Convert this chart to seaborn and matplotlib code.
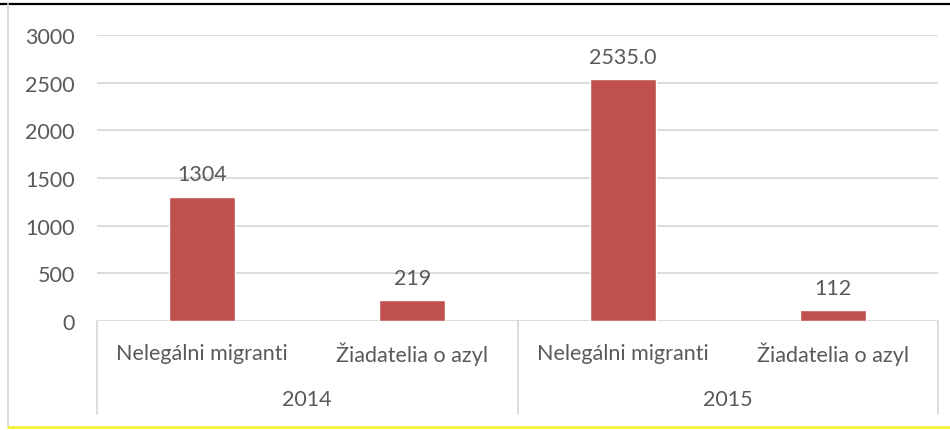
import pandas as pd
import matplotlib.pyplot as plt
import seaborn as sns
from matplotlib.lines import Line2D
from matplotlib.transforms import blended_transform_factory

# Data
years = ['2014', '2014', '2015', '2015']
groups = ['Nelegálni migranti', 'Žiadatelia o azyl', 'Nelegálni migranti', 'Žiadatelia o azyl']
values = [1304, 219, 2535, 112]
value_labels = ['1304', '219', '2535.0', '112']
yticks = [0, 500, 1000, 1500, 2000, 2500, 3000]

df = pd.DataFrame({'year': years, 'group': groups, 'value': values})
df['slot'] = [f'{y}|{g}' for y, g in zip(years, groups)]

sns.set_style('white')
plt.rcParams['font.family'] = ['Lato', 'DejaVu Sans']
text_col = '#595959'
grid_col = '#D9D9D9'
fs = 15.5

fig = plt.figure(figsize=(9.5, 4.31), dpi=100)
ax = fig.add_axes([97 / 950, 109 / 431, (938 - 97) / 950, 286 / 431])

sns.barplot(data=df, x='slot', y='value', color='#C0504D', width=0.315,
            saturation=1, ax=ax, zorder=3)

ax.set_ylim(0, 3000)
ax.set_xlim(-0.5, 3.5)
ax.set_yticks(yticks)
ax.set_yticklabels([str(t) for t in yticks], fontsize=fs, color=text_col)
ax.tick_params(axis='y', length=0, pad=16)
ax.set_xticks([])
ax.set_xlabel('')
ax.set_ylabel('')
ax.grid(axis='y', color=grid_col, linewidth=1.3, zorder=0)
for s in ax.spines.values():
    s.set_visible(False)

# Value labels above bars
for i, (v, lab) in enumerate(zip(values, value_labels)):
    ax.annotate(lab, (i, v), xytext=(0, 9), textcoords='offset points',
                ha='center', va='bottom', fontsize=fs, color=text_col)

# Two-level category axis
trans = blended_transform_factory(ax.transData, ax.transAxes)
for i, g in enumerate(groups):
    ax.text(i, -0.112, g, transform=trans, ha='center', va='center',
            fontsize=fs, color=text_col)
for i, y in enumerate(['2014', '2015']):
    ax.text(2 * i + 0.5, -0.273, y, transform=trans, ha='center', va='center',
            fontsize=fs, color=text_col)
for xd in [-0.5, 1.5, 3.5]:
    ax.add_line(Line2D([xd, xd], [0, -0.325], transform=trans, color=grid_col,
                       linewidth=1.3, clip_on=False))

# Frame lines around the picture
fig.add_artist(Line2D([0, 1], [1 - 5 / 431, 1 - 5 / 431], color='black', linewidth=1.6))
fig.add_artist(Line2D([8 / 950, 8 / 950], [4 / 431, 1 - 5 / 431], color=grid_col, linewidth=1.3))
fig.add_artist(Line2D([8 / 950, 1], [3.5 / 431, 3.5 / 431], color='#F5F03A', linewidth=2))

fig.savefig('out.png', dpi=100, facecolor='white')
